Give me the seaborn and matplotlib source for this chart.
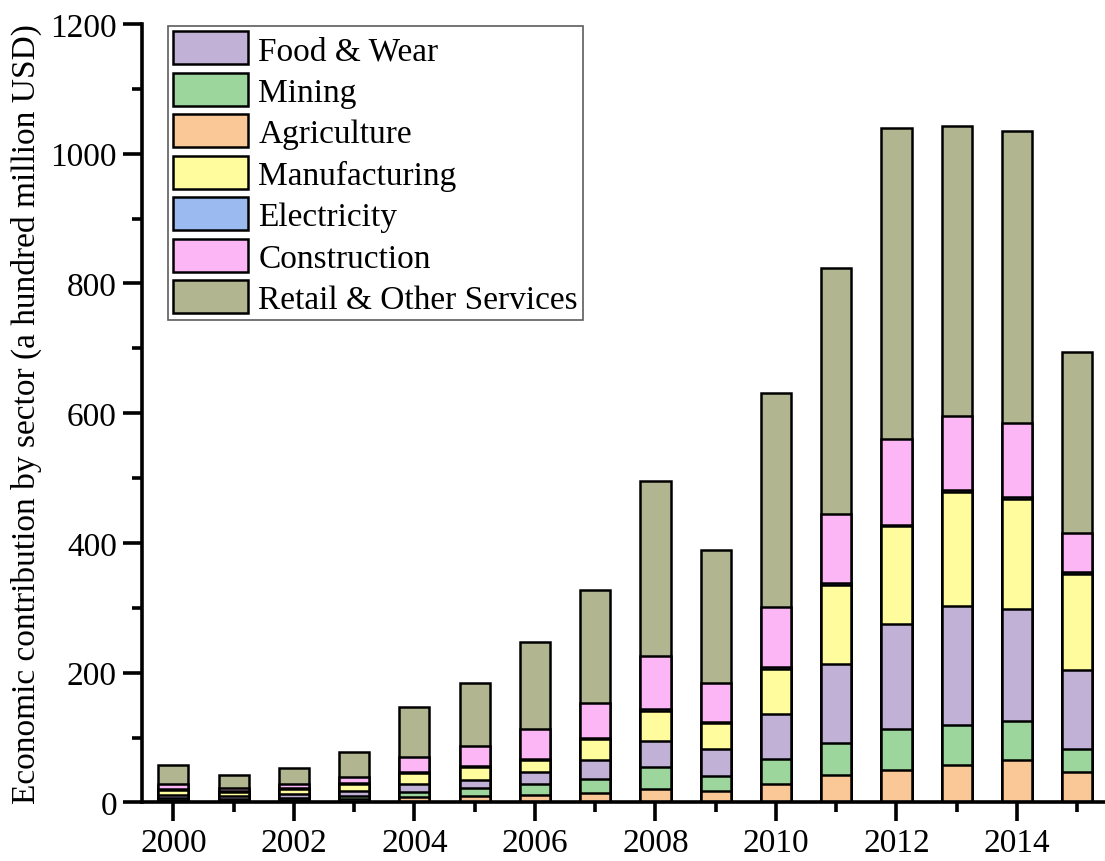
import numpy as np
import pandas as pd
import seaborn as sns
import matplotlib.pyplot as plt
from matplotlib.patches import Patch
from matplotlib.ticker import MultipleLocator, FixedLocator

years = list(range(2000, 2016))

# values (a hundred million USD), bottom to top of each stack
agriculture   = [4, 3, 4, 6, 8, 10, 11, 14.5, 20, 18, 28, 42, 50, 58, 66, 47]
mining        = [3, 3, 3, 4, 8, 12, 17, 21.5, 34, 23.5, 39, 49, 63, 61, 59, 35]
food_wear     = [5, 3.5, 6, 7.5, 12, 13, 19, 29, 41, 40.5, 69, 122, 162, 184, 173, 122]
manufacturing = [7, 6.5, 8, 11, 17, 19, 19, 33, 46, 41, 70, 122, 151, 175, 170, 148]
electricity   = [1, 1, 1, 1, 1.5, 1.5, 1.5, 2, 2.5, 1.5, 3, 3.5, 2, 3, 2.5, 4]
construction  = [8, 5, 7, 10.5, 23, 31, 45, 53, 82, 60, 92, 106, 133, 114, 114, 60]
retail        = [29, 20, 23.5, 38, 77, 98, 135, 175, 270, 204, 330, 380, 479, 448, 450, 279]

stack_names = ['Agriculture', 'Mining', 'Food & Wear', 'Manufacturing',
               'Electricity', 'Construction', 'Retail & Other Services']
stack_values = [agriculture, mining, food_wear, manufacturing,
                electricity, construction, retail]
legend_order = ['Food & Wear', 'Mining', 'Agriculture', 'Manufacturing',
                'Electricity', 'Construction', 'Retail & Other Services']

colors = {
    'Food & Wear': '#c2b1d6',
    'Mining': '#9dd69c',
    'Agriculture': '#fac896',
    'Manufacturing': '#fffc9e',
    'Electricity': '#9bbaf0',
    'Construction': '#fcb6f6',
    'Retail & Other Services': '#b2b690',
}

df = pd.DataFrame(dict(zip(stack_names, stack_values)), index=years)
cum = df.cumsum(axis=1)
cum['year'] = [str(y) for y in years]

sns.set_style('ticks')
plt.rcParams['font.family'] = ['Liberation Serif', 'DejaVu Serif']
plt.rcParams['axes.linewidth'] = 2.6
plt.rcParams['text.color'] = 'black'
plt.rcParams['axes.labelcolor'] = 'black'
plt.rcParams['xtick.color'] = 'black'
plt.rcParams['ytick.color'] = 'black'
plt.rcParams['axes.edgecolor'] = 'black'

fig = plt.figure(figsize=(11.05, 8.62), dpi=100)
ax = fig.add_axes([0.1285, 0.0679, 0.8715, 0.9031])

# draw cumulative totals from the top down so each layer covers the next
for name in reversed(stack_names):
    sns.barplot(data=cum, x='year', y=name, color=colors[name], width=0.5,
                edgecolor='black', linewidth=1.8, saturation=1, ax=ax)

ax.set_ylim(0, 1200)
ax.set_xlim(-0.52, 15.46)
ax.yaxis.set_major_locator(MultipleLocator(200))
ax.yaxis.set_minor_locator(MultipleLocator(100))
ax.xaxis.set_major_locator(FixedLocator([i for i, y in enumerate(years) if y % 2 == 0]))
ax.xaxis.set_minor_locator(FixedLocator([i for i, y in enumerate(years) if y % 2 == 1]))
ax.set_xticklabels([str(y) for y in years if y % 2 == 0])
ax.tick_params(axis='both', which='major', direction='out', length=14, width=2.6,
               labelsize=24, pad=4)
ax.tick_params(axis='both', which='minor', direction='out', length=7, width=2.6)
ax.set_xlabel('')
ax.set_ylabel('Economic contribution by sector (a hundred million USD)', fontsize=24,
              labelpad=6)
ax.spines[['right', 'top']].set_visible(False)

handles = [Patch(facecolor=colors[n], edgecolor='black', linewidth=1.8, label=n)
           for n in legend_order]
leg = ax.legend(handles=handles, loc='upper left', bbox_to_anchor=(0.0273, 0.997),
                fontsize=24, frameon=True, fancybox=False, handlelength=2.25,
                handleheight=1.15, handletextpad=0.3, labelspacing=0.2,
                borderpad=0.15, borderaxespad=0.0)
leg.get_frame().set_edgecolor('#333333')
leg.get_frame().set_linewidth(1.2)

fig.savefig('out.png', dpi=100)
